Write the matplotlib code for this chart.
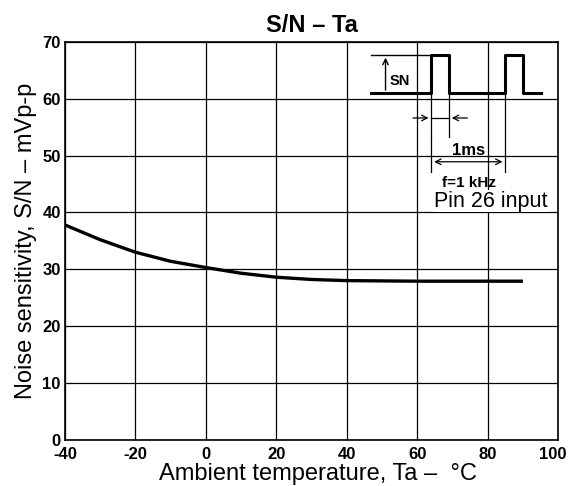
import matplotlib
matplotlib.use("Agg")
import matplotlib.pyplot as plt
import matplotlib.transforms as mtransforms

plt.rcParams['font.family'] = ['Liberation Sans', 'DejaVu Sans']

# curve
temp = [-40, -30, -20, -10, 0, 10, 20, 30, 40, 60, 80, 90]
sn = [37.8, 35.2, 33.0, 31.4, 30.3, 29.3, 28.6, 28.2, 28.0, 27.9, 27.9, 27.9]

xticks = [-40, -20, 0, 20, 40, 60, 80, 100]
yticks = [0, 10, 20, 30, 40, 50, 60, 70]

# inset waveform (two pulses)
wave_x = [47, 64, 64, 69, 69, 85, 85, 90, 90, 95]
wave_y = [61, 61, 67.7, 67.7, 61, 61, 67.7, 67.7, 61, 61]

fig = plt.figure(figsize=(5.69, 4.86), dpi=100)
ax = fig.add_axes([0.114, 0.095, 0.867, 0.819])

ax.plot(temp, sn, color='black', lw=2.4, solid_capstyle='butt')

ax.set_xlim(-40, 100)
ax.set_ylim(0, 70)
ax.set_xticks(xticks)
ax.set_yticks(yticks)
ax.set_xticklabels([str(v) for v in xticks], fontweight='bold', fontsize=12)
ax.set_yticklabels([str(v) for v in yticks], fontweight='bold', fontsize=12)
ax.tick_params(axis='x', length=0, pad=5.5)
ax.tick_params(axis='y', length=0, pad=3)
ax.grid(True, color='black', lw=0.9)
for s in ax.spines.values():
    s.set_linewidth(1.2)

# keep the "100" label inside the figure
last = ax.get_xticklabels()[-1]
last.set_transform(last.get_transform() +
                   mtransforms.ScaledTranslation(-4 / 72, 0, fig.dpi_scale_trans))

ax.set_xlabel('Ambient temperature, Ta \u2013  \u00b0C', fontsize=17)
ax.xaxis.set_label_coords(0.513, -0.057)
ax.set_ylabel('Noise sensitivity, S/N \u2013 mVp-p', fontsize=17, labelpad=4)
ax.set_title('S/N \u2013 Ta', fontsize=17, fontweight='bold', pad=7)

# waveform sketch
ax.plot(wave_x, wave_y, color='black', lw=2.2)
ax.plot([47, 64], [67.7, 67.7], color='black', lw=1)
ax.annotate('', xy=(51, 67.7), xytext=(51, 61),
            arrowprops=dict(arrowstyle='->', lw=1, color='black'))
ax.text(52.1, 63.1, 'SN', fontsize=10.5, fontweight='bold', va='center')

# pulse width marks
ax.plot([64, 64], [61, 53.2], color='black', lw=0.9)
ax.plot([69, 69], [61, 53.2], color='black', lw=0.9)
ax.plot([64, 69], [56.6, 56.6], color='black', lw=0.9)
ax.annotate('', xy=(64, 56.6), xytext=(58, 56.6),
            arrowprops=dict(arrowstyle='->', lw=0.9, color='black'))
ax.annotate('', xy=(69, 56.6), xytext=(75, 56.6),
            arrowprops=dict(arrowstyle='->', lw=0.9, color='black'))

# period marks
ax.plot([85, 85], [61, 47.1], color='black', lw=0.9)
ax.plot([64, 64], [53.2, 47.1], color='black', lw=0.9)
ax.annotate('', xy=(64, 48.9), xytext=(85, 48.9),
            arrowprops=dict(arrowstyle='<->', lw=0.9, color='black'))
ax.text(74.7, 50.9, '1ms', fontsize=12, fontweight='bold', ha='center', va='center')
ax.text(74.7, 45.2, 'f=1 kHz', fontsize=11, fontweight='bold', ha='center', va='center')
ax.text(81.0, 42.0, 'Pin 26 input', fontsize=15.5, ha='center', va='center',
        bbox=dict(facecolor='white', edgecolor='none', pad=0.5))

fig.savefig('out.png', dpi=100)
